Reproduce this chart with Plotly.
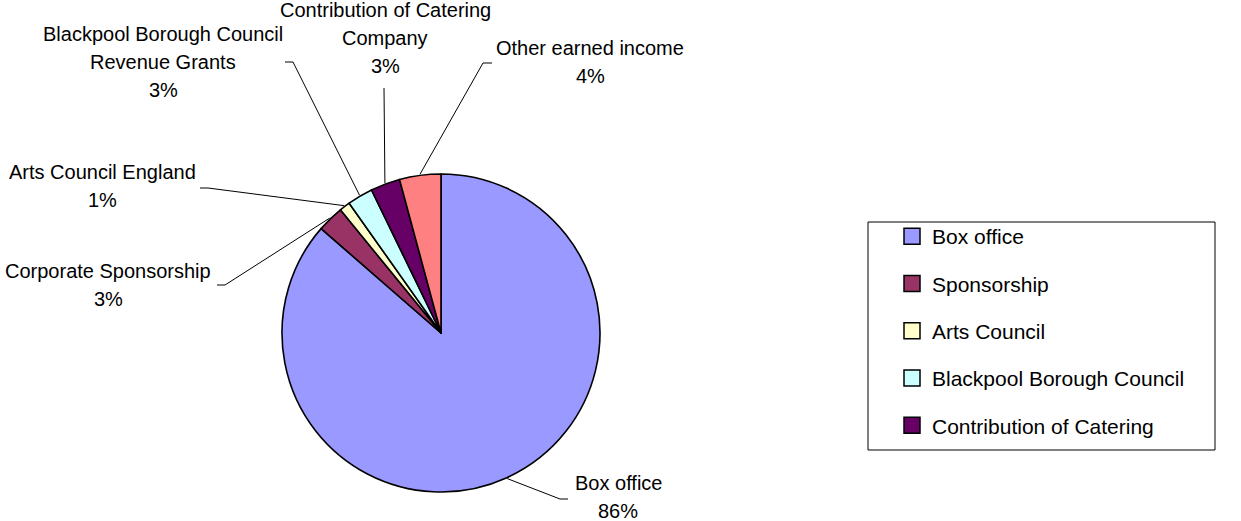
import math
import plotly.graph_objects as go

# Income sources, clockwise from 12 o'clock
slice_names = ["Box office", "Sponsorship", "Arts Council", "Blackpool Borough Council",
               "Contribution of Catering", "Other earned income"]
slice_values = [86.4, 2.7, 1.1, 2.6, 3.0, 4.2]
slice_colors = ["#9999FF", "#993366", "#FFFFCC", "#CCFFFF", "#660066", "#FF8080"]

# Text shown beside each slice
callout_titles = [
    ["Box office"],
    ["Corporate Sponsorship"],
    ["Arts Council England"],
    ["Blackpool Borough Council", "Revenue Grants"],
    ["Contribution of Catering", "Company"],
    ["Other earned income"],
]
# Legend lists the first five sources only
legend_count = 5

W, H = 1241, 521
FONT = "Liberation Sans, Arial, sans-serif"

# Pie geometry in pixels
cx, cy, r = 441, 333, 159

# Callout layout: (text centre x, first line y, leader elbow, leader tail end)
callout_layout = [
    (618, 483, (560, 499), (568, 499)),
    (108, 271, (225, 285), (217, 285)),
    (102, 172, (208, 188), (200, 188)),
    (163, 34, (293, 62), (285, 62)),
    (385, 10, (384, 88), None),
    (590, 48, (483, 63), (492, 63)),
]
line_step = 28

fig = go.Figure()

fig.add_trace(go.Pie(
    labels=slice_names,
    values=slice_values,
    sort=False,
    direction="clockwise",
    rotation=0,
    marker=dict(colors=slice_colors, line=dict(color="black", width=1.6)),
    textinfo="none",
    hoverinfo="label+percent",
    showlegend=False,
    domain=dict(x=[(cx - r) / W, (cx + r) / W],
                y=[(H - cy - r) / H, (H - cy + r) / H]),
))

total = sum(slice_values)
cum = 0.0
annotations = []
for i, v in enumerate(slice_values):
    mid = math.radians((cum + v / 2) / total * 360.0)
    cum += v
    ex = cx + (r + 1) * math.sin(mid)
    ey = cy - (r + 1) * math.cos(mid)
    tx, ty, elbow, tail = callout_layout[i]
    xs = [ex, elbow[0]]
    ys = [ey, elbow[1]]
    if tail is not None:
        xs.append(tail[0])
        ys.append(tail[1])
    fig.add_trace(go.Scatter(x=xs, y=ys, mode="lines",
                             line=dict(color="black", width=1),
                             hoverinfo="skip", showlegend=False))
    pct = f"{round(v / total * 100)}%"
    for j, line in enumerate(callout_titles[i] + [pct]):
        annotations.append(dict(x=tx, y=ty + j * line_step, xref="x", yref="y",
                                text=line, showarrow=False, xanchor="center",
                                yanchor="middle",
                                font=dict(family=FONT, size=20, color="black")))

# Legend entries (each carries one point parked outside the visible range)
for i in range(legend_count):
    fig.add_trace(go.Scatter(
        x=[-500], y=[-500], mode="markers", name=slice_names[i],
        legendgroup=f"g{i}", hoverinfo="skip", cliponaxis=True,
        marker=dict(symbol="square", size=16, color=slice_colors[i],
                    line=dict(color="black", width=1.5)),
    ))

fig.update_layout(
    width=W, height=H,
    margin=dict(l=0, r=0, t=0, b=0),
    paper_bgcolor="white", plot_bgcolor="rgba(0,0,0,0)",
    xaxis=dict(range=[0, W], visible=False, fixedrange=True),
    yaxis=dict(range=[H, 0], visible=False, fixedrange=True),
    annotations=annotations,
    shapes=[dict(type="rect", xref="x", yref="y", x0=868, y0=222, x1=1215, y1=450,
                 line=dict(color="black", width=1), fillcolor="rgba(0,0,0,0)", layer="below")],
    legend=dict(x=892 / W, y=(H - 216) / H, xanchor="left", yanchor="top",
                bgcolor="rgba(0,0,0,0)", borderwidth=0,
                font=dict(family=FONT, size=21, color="black"),
                traceorder="grouped", tracegroupgap=17, itemsizing="trace"),
    showlegend=True,
)

fig.write_html("out.html")
